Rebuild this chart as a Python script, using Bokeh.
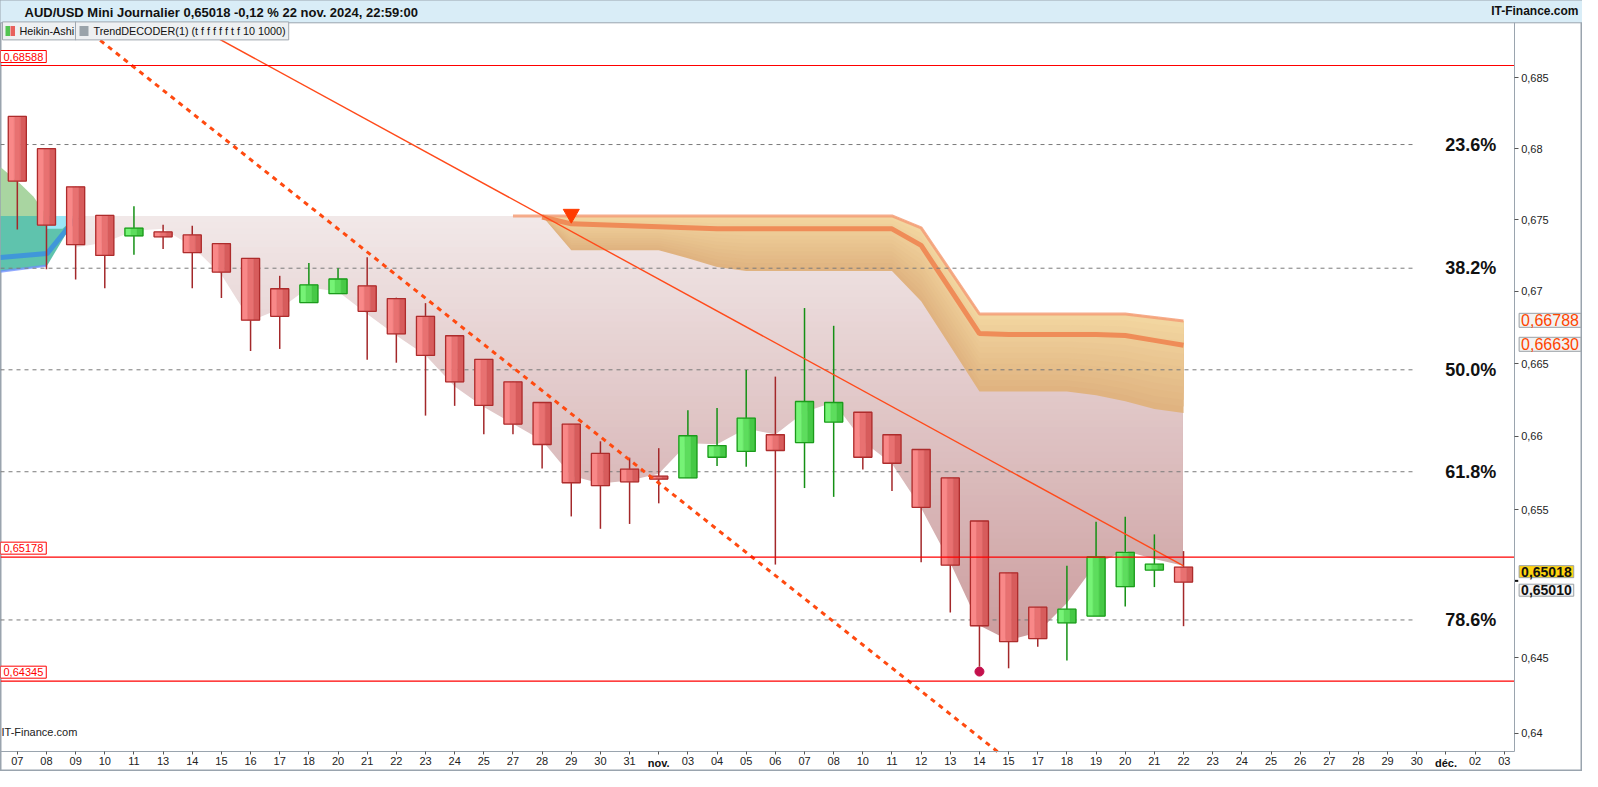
import numpy as np
from bokeh.plotting import figure
from bokeh.models import FixedTicker, Label, Range1d
from bokeh.embed import file_html
from bokeh.resources import INLINE

FONT = "Liberation Sans"

# ---------------- data ----------------
dates = ["07", "08", "09", "10", "11", "13", "14", "15", "16", "17", "18", "20", "21", "22",
         "23", "24", "25", "27", "28", "29", "30", "31", "nov.", "03", "04", "05", "06", "07",
         "08", "10", "11", "12", "13", "14", "15", "17", "18", "19", "20", "21", "22", "23",
         "24", "25", "26", "27", "28", "29", "30", "déc.", "02", "03"]
bold_dates = ["nov.", "déc."]

ha_open = [0.68227, 0.67999, 0.67730, 0.67530, 0.67386, 0.67414, 0.67393, 0.67332, 0.67229, 0.67018,
           0.66922, 0.66984, 0.67038, 0.66950, 0.66827, 0.66692, 0.66529, 0.66374, 0.66232, 0.66084,
           0.65883, 0.65776, 0.65728, 0.65716, 0.65857, 0.65897, 0.66011, 0.65957, 0.66098, 0.66165,
           0.66011, 0.65910, 0.65716, 0.65423, 0.65072, 0.64841, 0.64735, 0.64781, 0.64979, 0.65091,
           0.65111]
ha_close = [0.67771, 0.67462, 0.67325, 0.67250, 0.67441, 0.67380, 0.67270, 0.67134, 0.66800, 0.66827,
            0.67045, 0.67086, 0.66861, 0.66705, 0.66556, 0.66374, 0.66212, 0.66084, 0.65944, 0.65683,
            0.65663, 0.65689, 0.65708, 0.66004, 0.65937, 0.66125, 0.65903, 0.66239, 0.66232, 0.65857,
            0.65816, 0.65516, 0.65124, 0.64716, 0.64610, 0.64630, 0.64827, 0.65179, 0.65211, 0.65131,
            0.65010]
ha_high = [0.68227, 0.67999, 0.67730, 0.67530, 0.67594, 0.67464, 0.67457, 0.67332, 0.67229, 0.67108,
           0.67197, 0.67161, 0.67238, 0.66956, 0.66918, 0.66692, 0.66529, 0.66374, 0.66232, 0.66084,
           0.65966, 0.65854, 0.65919, 0.66178, 0.66194, 0.66455, 0.66410, 0.66884, 0.66761, 0.66165,
           0.66011, 0.65910, 0.65716, 0.65423, 0.65072, 0.64841, 0.65120, 0.65418, 0.65452, 0.65332,
           0.65219]
ha_low = [0.67432, 0.67154, 0.67083, 0.67022, 0.67254, 0.67295, 0.67022, 0.66954, 0.66587, 0.66601,
          0.66922, 0.66984, 0.66526, 0.66506, 0.66142, 0.66209, 0.66015, 0.66015, 0.65780, 0.65454,
          0.65370, 0.65403, 0.65543, 0.65716, 0.65798, 0.65792, 0.65128, 0.65647, 0.65587, 0.65774,
          0.65627, 0.65143, 0.64805, 0.64442, 0.64431, 0.64575, 0.64483, 0.64781, 0.64845, 0.64976,
          0.64713]
last_price = 0.65018

fib_levels = [0.68028, 0.67161, 0.66457, 0.65758, 0.64755]
fib_labels = ["23.6%", "38.2%", "50.0%", "61.8%", "78.6%"]
fib_end = 47.88
fib_label_x = 50.73

support_levels = [0.68588, 0.65178, 0.64345]
support_labels = ["0,68588", "0,65178", "0,64345"]

y_ticks = [0.64, 0.645, 0.655, 0.66, 0.665, 0.67, 0.675, 0.68, 0.685]
y_tick_labels = ["0,64", "0,645", "0,655", "0,66", "0,665", "0,67", "0,675", "0,68", "0,685"]

# TrendDECODER "shadow" zone (index 2..40)
shadow_x = list(range(2, 41))
shadow_top = 0.67526
shadow_low = [0.67306, 0.67341, 0.67423, 0.67436, 0.67313, 0.67115, 0.66795, 0.66877, 0.67027,
              0.66999, 0.66843, 0.66694, 0.66558, 0.66342, 0.66201, 0.66086, 0.65972, 0.65731,
              0.65678, 0.65698, 0.65745, 0.65952, 0.65945, 0.66053, 0.66013, 0.66167, 0.66234,
              0.65966, 0.65812, 0.65511, 0.65140, 0.64718, 0.64619, 0.64671, 0.64869, 0.65133,
              0.65219, 0.65166, 0.65120]

# TrendDECODER orange band
band_top_x = list(range(17, 41))
band_top = [0.67526, 0.67526, 0.67526, 0.67526, 0.67526, 0.67526, 0.67526, 0.67526, 0.67526,
            0.67526, 0.67526, 0.67526, 0.67526, 0.67526, 0.67443, 0.67142, 0.66843, 0.66843,
            0.66843, 0.66843, 0.66843, 0.66843, 0.66819, 0.66795]
band_x = list(range(18, 41))
band_mid = [0.67519, 0.67471, 0.67464, 0.67457, 0.67450, 0.67443, 0.67436, 0.67436, 0.67436,
            0.67436, 0.67436, 0.67436, 0.67436, 0.67320, 0.67013, 0.66707, 0.66700, 0.66700,
            0.66700, 0.66700, 0.66694, 0.66660, 0.66626]
band_bot = [0.67526, 0.67286, 0.67286, 0.67286, 0.67286, 0.67231, 0.67170, 0.67142, 0.67142,
            0.67142, 0.67142, 0.67142, 0.67142, 0.66931, 0.66619, 0.66308, 0.66308, 0.66308,
            0.66308, 0.66281, 0.66241, 0.66187, 0.66160]

# previous TrendDECODER state (top-left)
prev_green_x = [-0.58, 0.1, 0.55, 1.02, -0.58]
prev_green_y = [0.67869, 0.67752, 0.67663, 0.67526, 0.67526]
prev_teal_x = [-0.58, 1.02, 2.04, 1.02, -0.58]
prev_teal_y = [0.67526, 0.67526, 0.67526, 0.67179, 0.67138]
prev_cyan_x = [1.02, 2.04, 1.55, 1.02]
prev_cyan_y = [0.67526, 0.67526, 0.67436, 0.67436]
prev_mid_x = [-0.58, 1.02, 2.04]
prev_mid_y = [0.67236, 0.67263, 0.67519]
prev_low_x = [-0.58, 1.02]
prev_low_y = [0.67138, 0.67179]

signal_x, signal_y = [19], [0.67540]
low_dot_x, low_dot_y = [33], [0.64409]

trend_solid_x = [5, 40]
trend_solid_y = [0.68996, 0.65119]
trend_dash_x = [1.5, 33.63]
trend_dash_y = [0.68989, 0.63875]

price_boxes = [("0,66788", 0.66799, "#ff4500", "#f2f2f2", "normal", "16px"),
               ("0,66630", 0.66633, "#ff4500", "#f2f2f2", "normal", "16px"),
               ("0,65018", 0.65080, "#111111", "#ffd40f", "bold", "14px"),
               ("0,65010", 0.64955, "#111111", "#f4f4f4", "bold", "14px")]

title_text = "AUD/USD Mini Journalier 0,65018 -0,12 % 22 nov. 2024, 22:59:00"

# ---------------- helpers ----------------
def hex2rgb(h):
    h = h.lstrip("#")
    return tuple(int(h[i:i + 2], 16) for i in (0, 2, 4))


def mix(c0, c1, t):
    a, b = hex2rgb(c0), hex2rgb(c1)
    return "#%02x%02x%02x" % tuple(int(round(a[i] + (b[i] - a[i]) * t)) for i in range(3))


W_PX, H_PX = 1582, 771
X0, X1 = -0.577, 53.684          # whole canvas
Y0, Y1 = 0.63745, 0.69052        # whole canvas
AX_X = 51.34                     # price axis position
AX_Y = 0.63875                   # date axis position
PLOT_TOP = 0.68905               # bottom of the header bar
BOX_X = 51.51                    # left edge of price boxes

p = figure(frame_width=W_PX, frame_height=H_PX, x_range=Range1d(X0, X1),
           y_range=Range1d(Y0, Y1), y_axis_type="log", y_axis_location="right",
           toolbar_location=None, output_backend="svg", title=None,
           min_border_left=0, min_border_right=0, min_border_top=0, min_border_bottom=0)
p.background_fill_color = "white"
p.border_fill_color = "white"
p.outline_line_color = "#9aa4ae"
p.outline_line_width = 2
p.grid.visible = False

# axes drawn at fixed positions inside the frame
ya = p.yaxis[0]
ya.fixed_location = AX_X
ya.bounds = (AX_Y, PLOT_TOP)
ya.ticker = FixedTicker(ticks=y_ticks)
ya.major_label_overrides = dict(zip(y_ticks, y_tick_labels))
ya.major_label_text_font = FONT
ya.major_label_text_font_size = "11px"
ya.major_label_text_color = "#222222"
ya.major_tick_out = 4
ya.major_tick_in = 0
ya.minor_tick_out = 0
ya.minor_tick_in = 0
ya.major_label_standoff = 3
ya.axis_line_color = "#9aa4ae"
ya.major_tick_line_color = "#555555"

xa = p.xaxis[0]
xa.fixed_location = AX_Y
xa.bounds = (X0, AX_X)
xa.ticker = FixedTicker(ticks=list(range(len(dates))))
xa.major_label_overrides = {i: ("" if d in bold_dates else d) for i, d in enumerate(dates)}
xa.major_label_text_font = FONT
xa.major_label_text_font_size = "11px"
xa.major_label_text_color = "#222222"
xa.major_tick_out = 3
xa.major_tick_in = 0
xa.minor_tick_out = 0
xa.minor_tick_in = 0
xa.major_label_standoff = 2
xa.axis_line_color = "#9aa4ae"
xa.major_tick_line_color = "#555555"

# ---- shadow zone gradient (stacked, no seams) ----
g_lo = 0.6455
edges = np.geomspace(g_lo, shadow_top, 71)
tt = 1 - (np.log(edges[:-1]) - np.log(g_lo)) / (np.log(shadow_top) - np.log(g_lo))
g_cols = [mix("#f2e9e9", "#cb9c9d", t) for t in tt]
p.quad(left=shadow_x[0] + 0.04, right=shadow_x[-1] - 0.04, bottom=edges[:-1], top=shadow_top,
       fill_color=g_cols, line_color=None)
p.varea(x=shadow_x, y1=AX_Y, y2=shadow_low, fill_color="white")
p.varea(x=band_top_x, y1=band_top, y2=PLOT_TOP, fill_color="white")

# ---- previous state, top-left ----
p.patch(prev_green_x, prev_green_y, fill_color="#a9d5a1", line_color=None)
p.patch(prev_teal_x, prev_teal_y, fill_color="#5fc3ad", line_color=None)
p.patch(prev_cyan_x, prev_cyan_y, fill_color="#9ae6f7", line_color=None)
p.line(prev_low_x, prev_low_y, line_color="#6f8dff", line_width=2.5, line_alpha=0.75)
p.line(prev_mid_x, prev_mid_y, line_color="#3b8fe0", line_width=5, line_alpha=0.85)

# ---- orange band (stacked gradient) ----
bt = np.array(band_top[1:])
bb = np.array(band_bot)
NL = 14
for k in range(NL, 0, -1):
    yb_ = bt + (bb - bt) * k / NL
    col = mix("#f3d7a1", "#dfb27f", (k - 0.5) / NL)
    p.varea(x=band_x, y1=yb_, y2=bt, fill_color=col)
p.line(band_top_x, band_top, line_color="#f59d77", line_width=3, line_alpha=0.85)
p.line(band_x, band_mid, line_color="#ef8c58", line_width=5)

# ---- fibonacci levels ----
p.segment(x0=X0, x1=fib_end, y0=fib_levels, y1=fib_levels, line_color="#7a7a7a",
          line_dash="4 4", line_width=1)

# ---- candles ----
idx = np.arange(len(ha_open))
o = np.array(ha_open)
c = np.array(ha_close)
hi = np.array(ha_high)
lo = np.array(ha_low)
up = c >= o
dn = ~up
top = np.maximum(o, c)
bot = np.minimum(o, c)
W = 0.62

p.segment(x0=idx[dn], x1=idx[dn], y0=lo[dn], y1=hi[dn], line_color="#a3282a", line_width=1.5)
p.segment(x0=idx[up], x1=idx[up], y0=lo[up], y1=hi[up], line_color="#149014", line_width=1.5)

red_strips = ["#f98888", "#e87171", "#d75c5c"]
green_strips = ["#76f376", "#5ddd5d", "#46c946"]
for k, off in enumerate([-W / 3, 0.0, W / 3]):
    p.vbar(x=idx[dn] + off, width=W / 3, top=top[dn], bottom=bot[dn],
           fill_color=red_strips[k], line_color=red_strips[k], line_width=0.5)
    p.vbar(x=idx[up] + off, width=W / 3, top=top[up], bottom=bot[up],
           fill_color=green_strips[k], line_color=green_strips[k], line_width=0.5)
p.vbar(x=idx[dn], width=W, top=top[dn], bottom=bot[dn], fill_alpha=0,
       line_color="#ad2c2c", line_width=1.3)
p.vbar(x=idx[up], width=W, top=top[up], bottom=bot[up], fill_alpha=0,
       line_color="#1b9b1b", line_width=1.3)

# ---- trend lines & markers ----
p.line(trend_dash_x, trend_dash_y, line_color="#ff4a10", line_width=3, line_dash="5 5")
p.line(trend_solid_x, trend_solid_y, line_color="#ff4a1a", line_width=1.4)
p.scatter(signal_x, signal_y, marker="inverted_triangle", size=16, fill_color="#ff3c00",
          line_color="#ff3c00")
p.scatter(low_dot_x, low_dot_y, marker="circle", size=9, fill_color="#c4104c",
          line_color="#c4104c")

# ---- support / resistance lines ----
p.segment(x0=X0, x1=AX_X, y0=support_levels, y1=support_levels, line_color="#ff0000",
          line_width=1.2)

# current price mark on the price axis
p.segment(x0=[AX_X], x1=[AX_X + 0.14], y0=[last_price], y1=[last_price],
          line_color="#111111", line_width=2)

# ---- texts ----
for lv, lab in zip(support_levels, support_labels):
    p.add_layout(Label(x=0, x_units="screen", y=lv, text=lab, text_font=FONT,
                       text_font_size="11px", text_color="#ff0000", text_baseline="bottom",
                       y_offset=3, background_fill_color="white", border_line_color="#ff0000",
                       border_line_width=1, padding=dict(left=3, right=3, top=2, bottom=2)))

for lv, lab in zip(fib_levels, fib_labels):
    p.add_layout(Label(x=fib_label_x, y=lv, text=lab, text_font=FONT, text_font_size="18px",
                       text_font_style="bold", text_color="#111111", text_align="right",
                       text_baseline="middle"))

for lab, lv, tc, bg, fs, sz in price_boxes:
    p.add_layout(Label(x=BOX_X, y=lv, text=lab, text_font=FONT, text_font_size=sz,
                       text_font_style=fs, text_color=tc, text_baseline="middle",
                       background_fill_color=bg, border_line_color="#9aa0a6",
                       border_line_width=1, padding=dict(left=2, right=2, top=1, bottom=1)))

for i, d in enumerate(dates):
    if d in bold_dates:
        p.add_layout(Label(x=i, y=8.5, y_units="screen", text=d, text_font=FONT,
                           text_font_size="11px", text_font_style="bold",
                           text_color="#111111", text_align="center", text_baseline="middle"))

# header bar
p.add_layout(Label(x=-6, y=H_PX - 10.3, x_units="screen", y_units="screen", text=title_text,
                   text_font=FONT, text_font_size="13px", text_font_style="bold",
                   text_color="#111111", text_baseline="middle",
                   background_fill_color="#d9edf7", border_line_color="#9aa4ae",
                   padding=dict(left=30, right=2000, top=6, bottom=3)))
p.add_layout(Label(x=W_PX - 4, y=H_PX - 10.3, x_units="screen", y_units="screen",
                   text="IT-Finance.com", text_font=FONT, text_font_size="12px",
                   text_font_style="bold", text_color="#111111", text_align="right",
                   text_baseline="middle"))

# legend row
LEG_Y = H_PX - 30.4
p.add_layout(Label(x=2, y=LEG_Y, x_units="screen", y_units="screen", text="Heikin-Ashi",
                   text_font=FONT, text_font_size="10.8px", text_color="#111111",
                   text_baseline="middle", background_fill_color="#eef0f2",
                   border_line_color="#a0a8b0",
                   padding=dict(left=17, right=2, top=3, bottom=3)))
p.add_layout(Label(x=5, y=LEG_Y, x_units="screen", y_units="screen", text=" ",
                   text_font_size="9px", background_fill_color="#52c452",
                   text_baseline="middle", padding=dict(left=1, right=1, top=0, bottom=0)))
p.add_layout(Label(x=10, y=LEG_Y, x_units="screen", y_units="screen", text=" ",
                   text_font_size="9px", background_fill_color="#e8605c",
                   text_baseline="middle", padding=dict(left=1, right=1, top=0, bottom=0)))
p.add_layout(Label(x=75, y=LEG_Y, x_units="screen", y_units="screen",
                   text="TrendDECODER(1) (t f f f f f t f 10 1000)",
                   text_font=FONT, text_font_size="10.8px", text_color="#111111",
                   text_baseline="middle", background_fill_color="#eef0f2",
                   border_line_color="#a0a8b0",
                   padding=dict(left=18, right=3, top=3, bottom=3)))
p.add_layout(Label(x=79, y=LEG_Y, x_units="screen", y_units="screen", text="  ",
                   text_font_size="9px", background_fill_color="#9aa3aa",
                   text_baseline="middle", padding=dict(left=2, right=2, top=0, bottom=0)))

p.add_layout(Label(x=1, y=40, x_units="screen", y_units="screen", text="IT-Finance.com",
                   text_font=FONT, text_font_size="11px", text_color="#222222",
                   text_baseline="middle"))

open("out.html", "w").write(file_html(p, INLINE))
